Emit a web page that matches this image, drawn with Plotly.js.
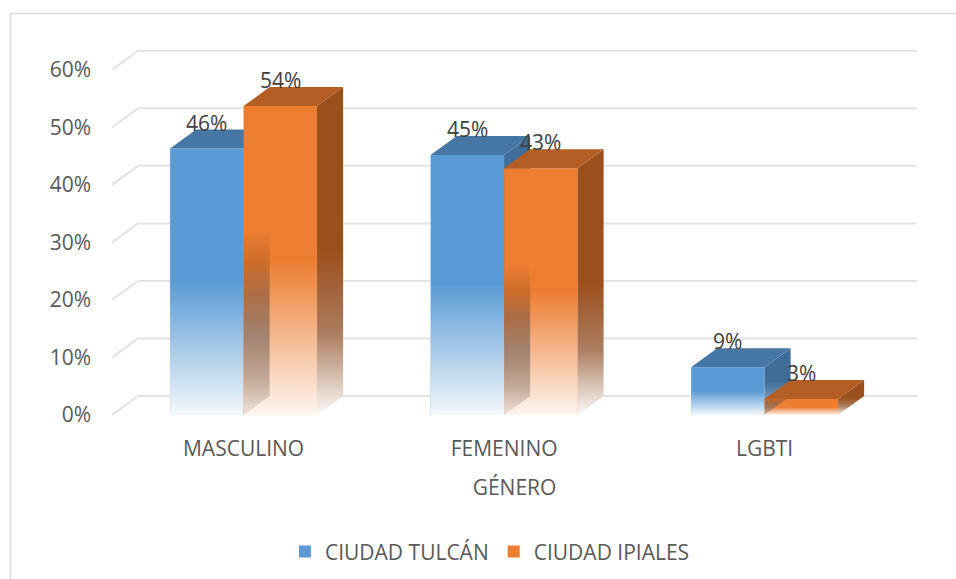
<!DOCTYPE html>
<html>
<head>
<meta charset="utf-8">
<script src="https://cdn.plot.ly/plotly-3.0.1.min.js"></script>
<style>html,body{margin:0;padding:0;background:#fff;}#chart{width:956px;height:579px;}</style>
</head>
<body>
<div id="chart"></div>
<script>
// ---- data ----
const categories = ['MASCULINO', 'FEMENINO', 'LGBTI'];
const seriesNames = ['CIUDAD TULCÁN', 'CIUDAD IPIALES'];
const tulcan = [0.463, 0.452, 0.083];
const ipiales = [0.537, 0.429, 0.028];
const tulcanLabels = ['46%', '45%', '9%'];
const ipialesLabels = ['54%', '43%', '3%'];
const yTicks = [0, 0.1, 0.2, 0.3, 0.4, 0.5, 0.6];
const axisTitle = 'GÉNERO';

// ---- geometry / style ----
const W = 0.282;      // bar width (category units)
const DX = 0.1;       // depth offset x
const DY = 0.033;     // depth offset y
const XR = [-0.505, 2.585];
const YR = [0, 0.65];
const FONT = '"Open Sans", "Noto Sans", sans-serif';
const FS = 21;

const styles = [
  {front: '#5B9BD5', top: '#4676A4', offset: -W, band: false,
   sideScale: [[0, 'rgb(244,247,251)'], [0.1, 'rgb(200,215,232)'], [0.25, 'rgb(120,150,185)'], [0.5, '#3F6C98'], [1, '#3F6C98']]},
  {front: '#ED7D31', top: '#B45E25', offset: 0, band: true,
   sideScale: [[0, 'rgb(250,248,246)'], [0.1, 'rgb(220,200,186)'], [0.25, 'rgb(172,124,94)'], [0.5, '#9B4F1C'], [1, '#9B4F1C']]}
];
const seriesVals = [tulcan, ipiales];
const seriesLabels = [tulcanLabels, ipialesLabels];

const traces = [];
const annotations = [];

seriesVals.forEach((vals, s) => {
  const st = styles[s];
  const z = s * 10;
  traces.push({
    type: 'bar', x: categories.map((c, i) => i), y: vals,
    offset: st.offset, width: W, name: seriesNames[s],
    marker: {color: st.front, line: {width: 0}},
    hoverinfo: 'skip', zorder: z, showlegend: true
  });
  vals.forEach((v, i) => {
    const x0 = i + st.offset, x1 = x0 + W;
    // white fade overlay on the front face (bottom half)
    traces.push({
      type: 'scatter', mode: 'lines', showlegend: false, hoverinfo: 'skip',
      x: [x0, x1, x1, x0, x0], y: [0, 0, v, v, 0],
      line: {width: 0}, fill: 'toself',
      fillgradient: {type: 'vertical', colorscale: [
        [0, 'rgba(255,255,255,0.93)'], [0.5, 'rgba(255,255,255,0)'], [1, 'rgba(255,255,255,0)']]},
      zorder: z + 1
    });
    if (st.band) {
      // inner left face seen through the faded front
      traces.push({
        type: 'scatter', mode: 'lines', showlegend: false, hoverinfo: 'skip',
        x: [x0, x0, x0 + DX, x0 + DX, x0], y: [0, v, v + DY, DY, 0],
        line: {width: 0}, fill: 'toself',
        fillgradient: {type: 'vertical', colorscale: [
          [0, 'rgba(130,110,100,0.12)'], [0.11, 'rgba(130,110,100,0.45)'],
          [0.24, 'rgba(130,110,100,0.72)'], [0.37, 'rgba(140,90,60,0.68)'],
          [0.46, 'rgba(150,80,30,0.4)'], [0.56, 'rgba(150,80,30,0)'], [1, 'rgba(150,80,30,0)']]},
        zorder: z + 2
      });
    }
    // side face
    traces.push({
      type: 'scatter', mode: 'lines', showlegend: false, hoverinfo: 'skip',
      x: [x1, x1, x1 + DX, x1 + DX, x1], y: [0, v, v + DY, DY, 0],
      line: {width: 0}, fill: 'toself',
      fillgradient: {type: 'vertical', colorscale: st.sideScale},
      zorder: z + 3
    });
    // top face
    traces.push({
      type: 'scatter', mode: 'lines', showlegend: false, hoverinfo: 'skip',
      x: [x0, x1, x1 + DX, x0 + DX, x0], y: [v, v, v + DY, v + DY, v],
      line: {width: 0}, fill: 'toself', fillcolor: st.top,
      zorder: z + 3
    });
    annotations.push({
      x: x0 + W / 2, y: v, xref: 'x', yref: 'y', text: seriesLabels[s][i],
      showarrow: false, yshift: 26, font: {family: FONT, size: FS, color: '#404040'}
    });
  });
});

// back-wall gridlines
const shapes = [];
yTicks.forEach(t => {
  shapes.push({type: 'line', xref: 'x', yref: 'y', layer: 'below',
    x0: XR[0], y0: t, x1: XR[0] + DX, y1: t + DY, line: {color: '#e3e3e3', width: 2}});
  shapes.push({type: 'line', xref: 'x', yref: 'y', layer: 'below',
    x0: XR[0] + DX, y0: t + DY, x1: XR[1], y1: t + DY, line: {color: '#e3e3e3', width: 2}});
});
// chart frame (left and top edges visible)
shapes.push({type: 'line', xref: 'paper', yref: 'paper', x0: -0.1261, y0: 1.0735, x1: -0.1261, y1: -0.45, line: {color: '#d9d9d9', width: 1.5}});
shapes.push({type: 'line', xref: 'paper', yref: 'paper', x0: -0.1261, y0: 1.0735, x1: 1.06, y1: 1.0735, line: {color: '#d9d9d9', width: 1.5}});

const layout = {
  width: 956, height: 579,
  margin: {l: 112, r: 39, t: 41, b: 164},
  paper_bgcolor: '#ffffff', plot_bgcolor: 'rgba(0,0,0,0)',
  font: {family: FONT, size: FS, color: '#595959'},
  showlegend: true,
  xaxis: {
    range: XR, tickvals: categories.map((c, i) => i), ticktext: categories,
    showgrid: false, zeroline: false, showline: false, ticks: '',
    ticklabelstandoff: 19, automargin: false, fixedrange: true,
    tickfont: {family: FONT, size: FS, color: '#595959'},
    title: {text: axisTitle, standoff: 19, font: {family: FONT, size: FS, color: '#595959'}}
  },
  yaxis: {
    range: YR, tickvals: yTicks, tickformat: '.0%',
    showgrid: false, zeroline: false, showline: false, ticks: '',
    ticklabelstandoff: 20, automargin: false, fixedrange: true,
    tickfont: {family: FONT, size: FS, color: '#595959'}
  },
  legend: {
    orientation: 'h', xref: 'container', yref: 'container',
    x: 0.5125, xanchor: 'center', y: 0.047, yanchor: 'middle',
    font: {family: FONT, size: FS, color: '#595959'},
    itemwidth: 30, bgcolor: 'rgba(0,0,0,0)'
  },
  shapes: shapes,
  annotations: annotations
};

Plotly.newPlot('chart', traces, layout, {displayModeBar: false, staticPlot: true});
</script>
</body>
</html>
